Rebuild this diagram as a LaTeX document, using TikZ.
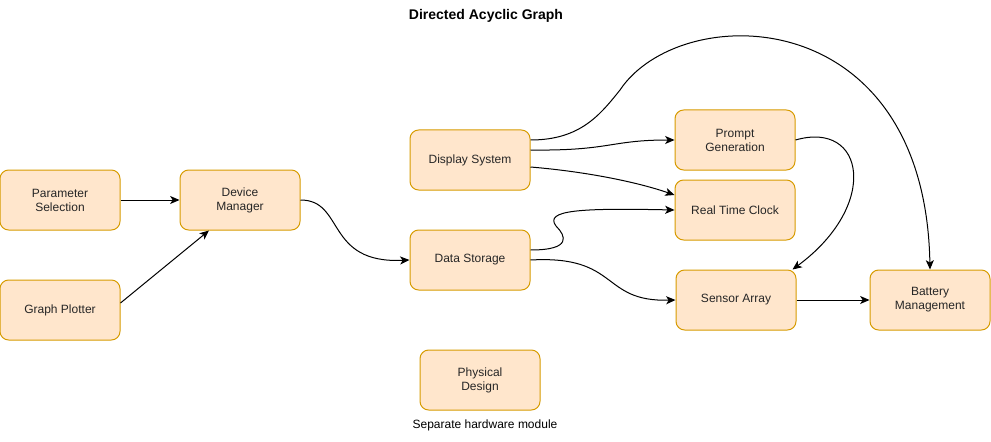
\documentclass[tikz,border=0pt]{standalone}
\usepackage{fontspec}
\setmainfont{Liberation Sans}
\usetikzlibrary{arrows.meta,calc}
\definecolor{boxfill}{HTML}{FFE6CC}
\definecolor{boxline}{HTML}{D79B00}
\begin{document}
\begin{tikzpicture}[x=0.75pt,y=-0.75pt,
  box/.style={draw=boxline,fill=boxfill,line width=0.75pt,rounded corners=6.5pt,
    minimum width=90pt,minimum height=45pt,align=center,font=\fontsize{9pt}{10.5pt}\selectfont,
    text=black!85,inner sep=1pt},
  conn/.style={line width=0.75pt,-{Stealth[length=7pt,width=6pt,inset=1.8pt]}},
  lbl/.style={font=\fontsize{9pt}{10.5pt}\selectfont}]
\useasboundingbox (0,0) rectangle (991,442);
\node[lbl,font=\fontsize{10.5pt}{12pt}\selectfont\bfseries] (title) at (486,16) {Directed Acyclic Graph};
\node[box] (ps) at (60,200) {Parameter\\Selection};
\node[box] (gp) at (60,310) {Graph Plotter};
\node[box] (dm) at (240,200) {Device\\Manager};
\node[box] (disp) at (470,160) {Display System};
\node[box] (ds) at (470,260) {Data Storage};
\node[box] (pg) at (735,140) {Prompt\\Generation};
\node[box] (rtc) at (735,210) {Real Time Clock};
\node[box] (sa) at (736,300) {Sensor Array};
\node[box] (bm) at (930,300) {Battery\\Management};
\node[box] (pd) at (480,380) {Physical\\Design};
\node[lbl] (note) at (485,425) {Separate hardware module};

\draw[conn] (ps.east) -- (dm.west);
\draw[conn] ($(gp.east)+(0,-7)$) -- ($(dm.south)+(-31,0)$);
\draw[conn] (dm.east) .. controls (345,200) and (325,264) .. (ds.west);
\draw[conn] ($(disp.east)+(0,-20)$) .. controls (580,140) and (600,115) .. (620,90)
  .. controls (680,0) and (925,0) .. (bm.north);
\draw[conn] ($(disp.east)+(0,-10)$) .. controls (610,151) and (610,140) .. (pg.west);
\draw[conn] ($(disp.east)+(0,7)$) .. controls (590,172) and (640,183) .. ($(rtc.west)+(0,-15)$);
\draw[conn] ($(ds.east)+(0,-10)$) .. controls (572,250) and (566,236) .. (556,226)
  .. controls (544,210) and (580,208) .. (rtc.west);
\draw[conn] (ds.east) .. controls (620,255) and (600,302) .. (sa.west);
\draw[conn] (pg.east) .. controls (865,120) and (880,205) .. ($(sa.north east)+(-4,0)$);
\draw[conn] (sa.east) -- (bm.west);
\end{tikzpicture}
\end{document}
